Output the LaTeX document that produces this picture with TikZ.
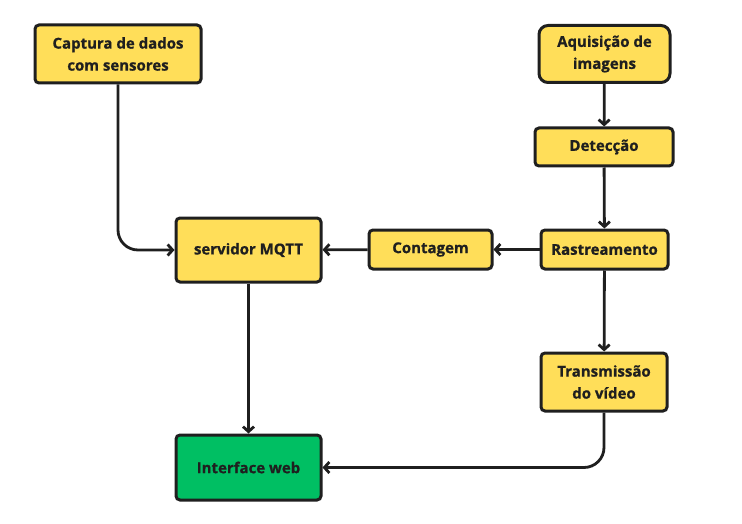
\documentclass[tikz,border=0pt]{standalone}
\usepackage{fontspec}
\setmainfont{Open Sans}[BoldFeatures={FakeBold=0.8}]
\usetikzlibrary{arrows.meta}
\definecolor{boxyellow}{HTML}{FFDE59}
\definecolor{boxgreen}{HTML}{00BF63}
\definecolor{ink}{HTML}{1F1F1F}
\begin{document}
\begin{tikzpicture}[x=1pt,y=-1pt]
\tikzset{block/.style = {shape=rectangle,draw=ink,line width=3pt,rounded corners=4pt,fill=boxyellow,text=ink,align=center,font=\fontsize{15}{22}\selectfont\bfseries,inner sep=0pt}}
\tikzset{arr/.style = {draw=ink,line width=2.8pt,-{Straight Barb[length=5pt,width=11pt]}}}
\useasboundingbox (0,0) rectangle (742,524);
% blocks on the left
\node[block,minimum width=166pt,minimum height=58pt] (cap) at (118,54) {Captura de dados\\com sensores};
\node[block,minimum width=145pt,minimum height=64pt] (mqtt) at (248.5,250) {servidor MQTT};
\node[block,fill=boxgreen,minimum width=145pt,minimum height=65pt] (web) at (248.5,467.5) {Interface web};
% blocks on the right
\node[block,rounded corners=9pt,minimum width=131pt,minimum height=57pt] (aqu) at (604.5,54) {Aquisição de\\imagens};
\node[block,minimum width=138pt,minimum height=38pt] (det) at (604,147) {Detecção};
\node[block,minimum width=127pt,minimum height=39pt] (rast) at (604.5,249.5) {Rastreamento};
\node[block,minimum width=123pt,minimum height=39pt] (cont) at (430.5,249.5) {Contagem};
\node[block,minimum width=126pt,minimum height=58pt] (trans) at (604,382) {Transmissão\\do vídeo};
% connectors
\draw[arr,rounded corners=20pt] (cap) |- (mqtt);
\draw[arr] (aqu) -- (det);
\draw[arr] (det) -- (rast);
\draw[arr] (rast) -- (cont);
\draw[arr] (cont) -- (mqtt);
\draw[arr] (rast) -- (trans);
\draw[arr] (mqtt) -- (web);
\draw[arr,rounded corners=20pt] (trans) |- (web);
\end{tikzpicture}
\end{document}
